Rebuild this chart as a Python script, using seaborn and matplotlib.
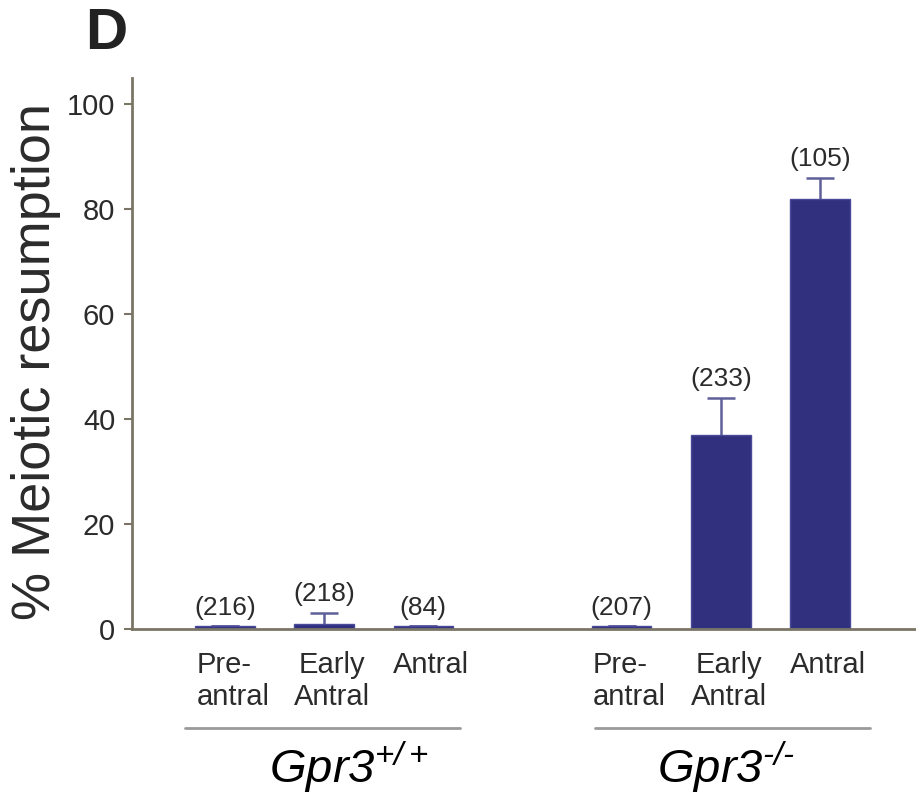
import matplotlib
matplotlib.use("Agg")
import matplotlib.pyplot as plt
import matplotlib.transforms as mtransforms
from matplotlib.lines import Line2D
import seaborn as sns
import pandas as pd

# ---- data ----
categories = ["Pre-\nantral", "Early\nAntral", "Antral", "Pre-\nantral", "Early\nAntral", "Antral"]
genotypes = ["Gpr3+/+", "Gpr3+/+", "Gpr3+/+", "Gpr3-/-", "Gpr3-/-", "Gpr3-/-"]
positions = [0, 1, 2, 4, 5, 6]
values = [0.5, 1.0, 0.5, 0.5, 37, 82]
err_upper = [0, 2.0, 0, 0, 7, 4]
counts = ["(216)", "(218)", "(84)", "(207)", "(233)", "(105)"]
yticks = [0, 20, 40, 60, 80, 100]
group_labels = ["$Gpr3^{+/+}$", "$Gpr3^{\u2010/\u2010}$"]

sns.set_style("white")
plt.rcParams["font.family"] = ["Liberation Sans", "DejaVu Sans"]
plt.rcParams["mathtext.fontset"] = "custom"
plt.rcParams["mathtext.it"] = "Liberation Sans:italic"
plt.rcParams["mathtext.rm"] = "Liberation Sans:italic"
plt.rcParams["mathtext.default"] = "it"

TEXT = "#2b2b2b"
BAR = "#30307f"
SPINE = "#7a7566"

df = pd.DataFrame({"pos": positions, "val": values, "cat": categories, "geno": genotypes})

fig = plt.figure(figsize=(9.16, 7.95), dpi=100)
W, H = 916, 795
ax = fig.add_axes([132 / W, (H - 629) / H, (916 - 132) / W, (629 - 78) / H])

sns.barplot(data=df, x="pos", y="val", native_scale=True, width=0.6,
            color=BAR, saturation=1, edgecolor="#4a4a9a", linewidth=1,
            errorbar=None, ax=ax, zorder=2)

# symmetric error bars drawn behind the bars so only the upper half shows
ax.errorbar(positions, values, yerr=err_upper, fmt="none",
            ecolor="#5f5f9a", elinewidth=1.8, capsize=10, capthick=1.8, zorder=1)

for p, v, e, c in zip(positions, values, err_upper, counts):
    ax.text(p, v + e + 1.3, c, ha="center", va="bottom", fontsize=19, color=TEXT)

ax.set_xlim(-0.938, 6.968)
ax.set_ylim(0, 105)
ax.set_yticks(yticks)
ax.set_yticklabels([str(t) for t in yticks], fontsize=21, color=TEXT)
ax.set_xticks([])
ax.set_xlabel("")
ax.set_ylabel("")
ax.tick_params(axis="y", direction="out", length=6, width=1.5, color=SPINE, pad=6, left=True)

for s in ["top", "right"]:
    ax.spines[s].set_visible(False)
for s in ["left", "bottom"]:
    ax.spines[s].set_color(SPINE)
    ax.spines[s].set_linewidth(2)
    ax.spines[s].set_zorder(3)

fig.text(36 / W, 1 - 362 / H, "% Meiotic resumption", rotation=90, fontsize=39,
         color=TEXT, ha="center", va="center")

trans = mtransforms.blended_transform_factory(ax.transData, ax.transAxes)

# category labels
for p, c in zip(positions, categories):
    ma = "left" if c.startswith("Pre") else "center"
    ax.text(p + 0.08, -0.04, c, transform=trans, ha="center", va="top",
            fontsize=21, color=TEXT, multialignment=ma, linespacing=1.2)

# group lines and labels
for (x0, x1), lab, xc in zip([(-0.4, 2.37), (3.73, 6.5)], group_labels, [1.25, 5.05]):
    ax.add_line(Line2D([x0, x1], [-0.18, -0.18], transform=trans, color="#9a9a9a",
                       linewidth=2, clip_on=False))
    ax.text(xc, -0.25, lab, transform=trans, ha="center", va="center",
            fontsize=34, color="black")

fig.text(106 / W, 1 - 34 / H, "D", fontsize=42, fontweight="bold", ha="center", va="center",
         color="#222222")

fig.savefig("out.png", dpi=100, facecolor="white")
